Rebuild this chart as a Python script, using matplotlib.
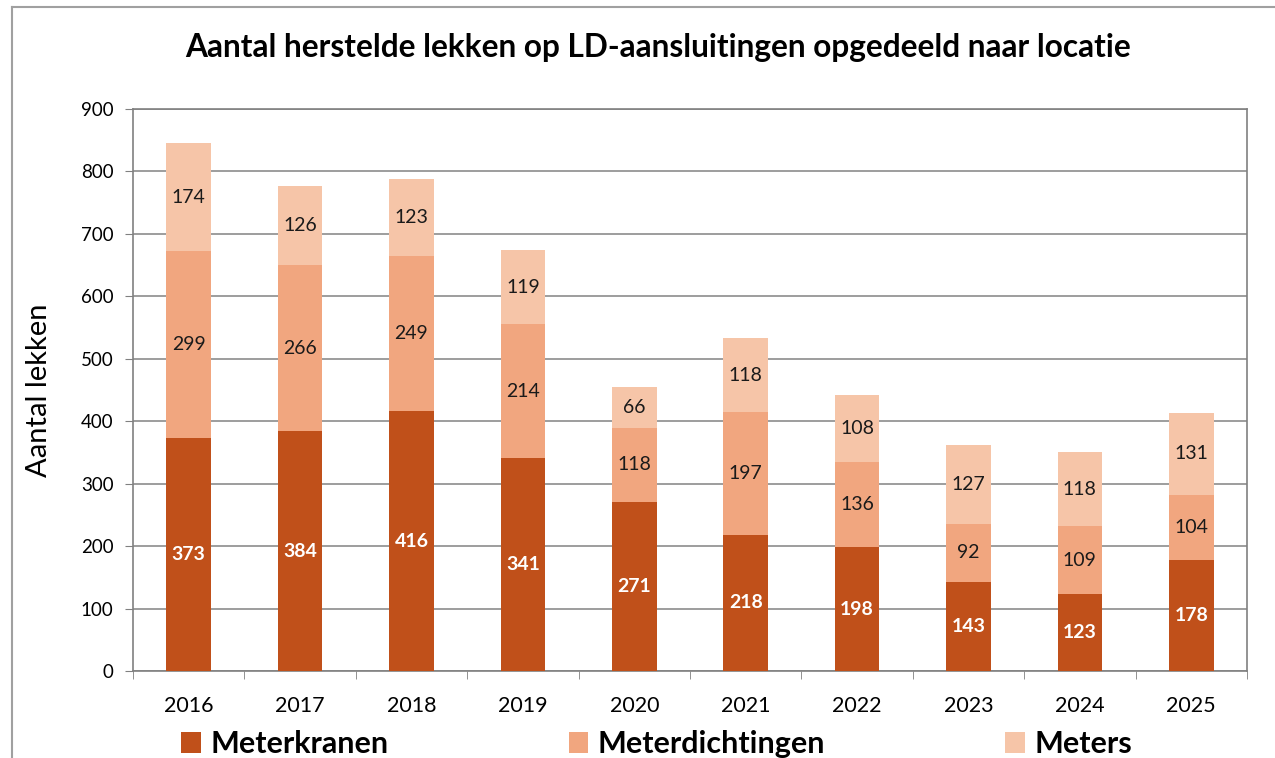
import numpy as np
import matplotlib.pyplot as plt
from matplotlib.lines import Line2D
from matplotlib.patches import Patch

plt.rcParams['font.family'] = ['Lato', 'DejaVu Sans']

years = ['2016', '2017', '2018', '2019', '2020', '2021', '2022', '2023', '2024', '2025']
meterkranen = [373, 384, 416, 341, 271, 218, 198, 143, 123, 178]
meterdichtingen = [299, 266, 249, 214, 118, 197, 136, 92, 109, 104]
meters = [174, 126, 123, 119, 66, 118, 108, 127, 118, 131]

series = ['Meterkranen', 'Meterdichtingen', 'Meters']
colors = ['#C0501A', '#F1A67F', '#F6C5A8']

fig = plt.figure(figsize=(12.75, 7.58), dpi=100)
ax = fig.add_axes([0.1043, 0.1148, 0.8737, 0.7414])

x = np.arange(len(years))
w = 0.40
bottom = np.zeros(len(years))
for i, (vals, c) in enumerate(zip([meterkranen, meterdichtingen, meters], colors)):
    vals = np.array(vals)
    ax.bar(x, vals, w, bottom=bottom, color=c, zorder=3)
    for xi, b, v in zip(x, bottom, vals):
        if i == 0:
            ax.text(xi, b + v / 2, str(v), ha='center', va='center', color='white',
                    fontsize=14, fontweight='bold', zorder=4)
        else:
            ax.text(xi, b + v / 2, str(v), ha='center', va='center', color='#1a1a1a',
                    fontsize=14, zorder=4)
    bottom += vals

ax.set_xlim(-0.5, len(years) - 0.5)
ax.set_ylim(0, 900)
ax.set_yticks(range(0, 901, 100))
ax.set_xticks(x)
ax.set_xticklabels(years, fontsize=15.5)
ax.set_xticks(np.arange(-0.5, len(years), 1), minor=True)
ax.tick_params(axis='x', which='major', length=0, pad=18)
ax.tick_params(axis='x', which='minor', length=6, color='#808080')
ax.tick_params(axis='y', labelsize=13.5, length=6, color='#808080', pad=8)
ax.grid(axis='y', color='#8c8c8c', linewidth=1.2, zorder=0)
for s in ax.spines.values():
    s.set_color('#808080')
    s.set_linewidth(1.2)

ax.set_ylabel('Aantal lekken', fontsize=21)
ax.yaxis.set_label_coords(-0.073, 0.50)

fig.text(0.516, 0.937, 'Aantal herstelde lekken op LD-aansluitingen opgedeeld naar locatie',
         ha='center', va='center', fontsize=22.8, fontweight='bold')

handles = [Patch(facecolor=c) for c in colors]
fig.legend(handles, series, loc='center', bbox_to_anchor=(0.515, 0.018), ncol=3,
           frameon=False, prop={'size': 22, 'weight': 'bold'},
           handlelength=0.65, handleheight=0.65, handletextpad=0.3, columnspacing=5.9)

# chart border
fig.add_artist(Line2D([12 / 1275, 1.0], [1 - 7 / 758, 1 - 7 / 758], color='#a0a0a0', lw=1.5))
fig.add_artist(Line2D([12 / 1275, 12 / 1275], [0, 1 - 7 / 758], color='#a0a0a0', lw=1.5))

fig.savefig('out.png', dpi=100)
